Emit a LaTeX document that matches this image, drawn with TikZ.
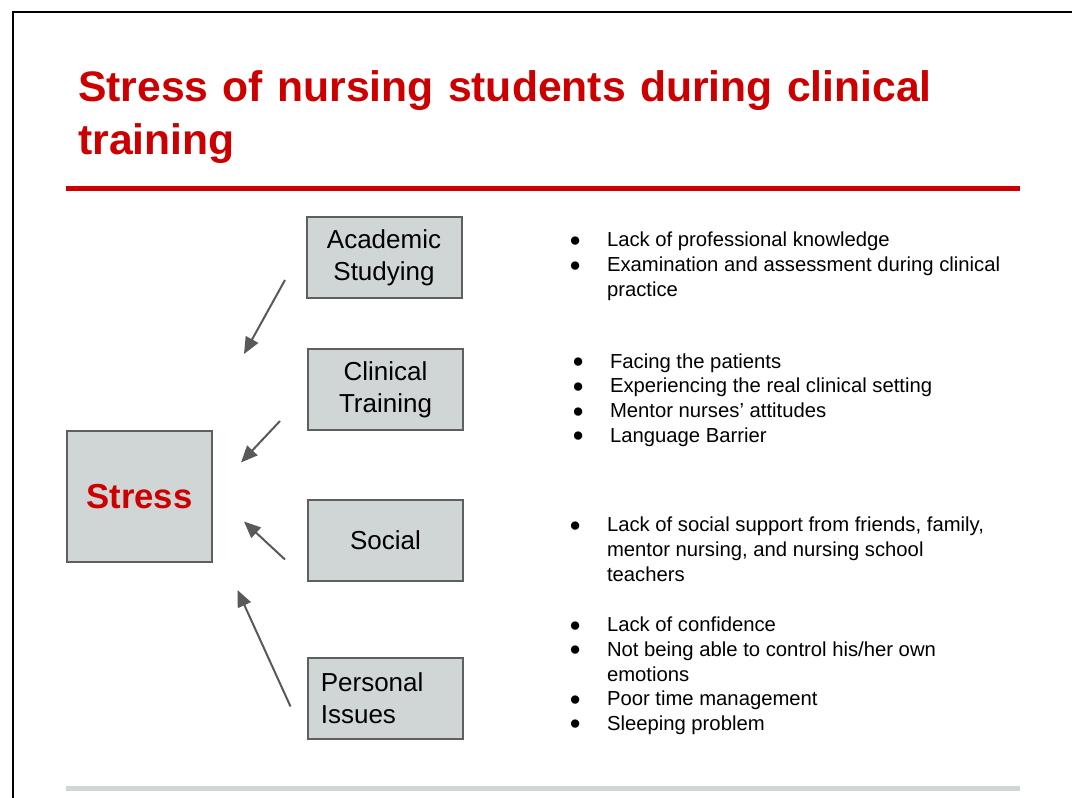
\documentclass[tikz,border=0pt]{standalone}
\usepackage{fontspec}
\setmainfont{Liberation Sans}
\newfontfamily\titlefont{Liberation Sans}[WordSpace=1.22]
\usetikzlibrary{arrows.meta}
\definecolor{titlered}{RGB}{204,0,0}
\definecolor{boxgray}{RGB}{208,213,214}
\definecolor{edgegray}{RGB}{95,95,95}
\definecolor{arrowgray}{RGB}{89,89,89}
\newcommand{\bul}{\makebox[18pt]{\raisebox{0.3pt}{\fontsize{14.5pt}{15pt}\selectfont ●}}\hspace{14.8pt}}
\newcommand{\cont}{\hspace*{32.8pt}}
\begin{document}
\begin{tikzpicture}[x=0.75pt, y=-0.75pt,
    box/.style={draw=edgegray, line width=1.5pt, fill=boxgray, inner sep=0pt,
      minimum width=116.25pt, minimum height=61pt, align=center,
      font=\fontsize{19.5pt}{24pt}\selectfont},
    arr/.style={draw=arrowgray, line width=1.5pt, -{Triangle[length=12.5pt, width=10.5pt]}},
    list/.style={anchor=base west, inner sep=0pt, font=\fontsize{15.2pt}{18.5pt}\selectfont}]
  \useasboundingbox (0,0) rectangle (1072,798);
  \fill[white] (0,0) rectangle (1072,798);
  \draw[line width=1.5pt] (13,798) -- (13,12) -- (1072,12);
  \node[anchor=base west, inner sep=0pt, text width=760pt, align=left, text=titlered,
    font=\titlefont\bfseries\fontsize{32pt}{39.75pt}\selectfont] (title) at (78,101.5)
    {Stress of nursing students during clinical\\training};
  \draw[titlered, line width=3.75pt] (66,189) -- (1020,189);
  \draw[boxgray, line width=3.75pt] (66,788) -- (1020,788);
  \node[box] (acad) at (384,257.5) {Academic\\Studying};
  \node[box] (clin) at (385.5,389.5) {Clinical\\Training};
  \node[box] (soc) at (385.5,540.5) {Social};
  \node[box, align=left, text width=97pt] (pers) at (385.5,698.5) {Personal\\Issues};
  \node[box, minimum width=109.2pt, minimum height=98.5pt, text=titlered,
    font=\bfseries\fontsize{26pt}{30pt}\selectfont] (stress) at (139.5,496.7) {Stress};
  \coordinate (a1s) at (285,280);
  \coordinate (a1e) at (244,354);
  \coordinate (a2s) at (280,421);
  \coordinate (a2e) at (241,462.5);
  \coordinate (a3s) at (285,559.5);
  \coordinate (a3e) at (244,521.5);
  \coordinate (a4s) at (290.5,706.5);
  \coordinate (a4e) at (237.5,590);
  \draw[arr] (a1s) -- (a1e);
  \draw[arr] (a2s) -- (a2e);
  \draw[arr] (a3s) -- (a3e);
  \draw[arr] (a4s) -- (a4e);
  \node[list] (acadlist) at (563,247) {\begin{tabular}[t]{@{}l@{}}
    \bul Lack of professional knowledge\\
    \bul Examination and assessment during clinical\\
    \cont practice
  \end{tabular}};
  \node[list] (clinlist) at (566,368.3) {\begin{tabular}[t]{@{}l@{}}
    \bul Facing the patients\\
    \bul Experiencing the real clinical setting\\
    \bul Mentor nurses’ attitudes\\
    \bul Language Barrier
  \end{tabular}};
  \node[list] (soclist) at (563,531.7) {\begin{tabular}[t]{@{}l@{}}
    \bul Lack of social support from friends, family,\\
    \cont mentor nursing, and nursing school\\
    \cont teachers
  \end{tabular}};
  \node[list] (perslist) at (563,631.7) {\begin{tabular}[t]{@{}l@{}}
    \bul Lack of confidence\\
    \bul Not being able to control his/her own\\
    \cont emotions\\
    \bul Poor time management\\
    \bul Sleeping problem
  \end{tabular}};
\end{tikzpicture}
\end{document}
